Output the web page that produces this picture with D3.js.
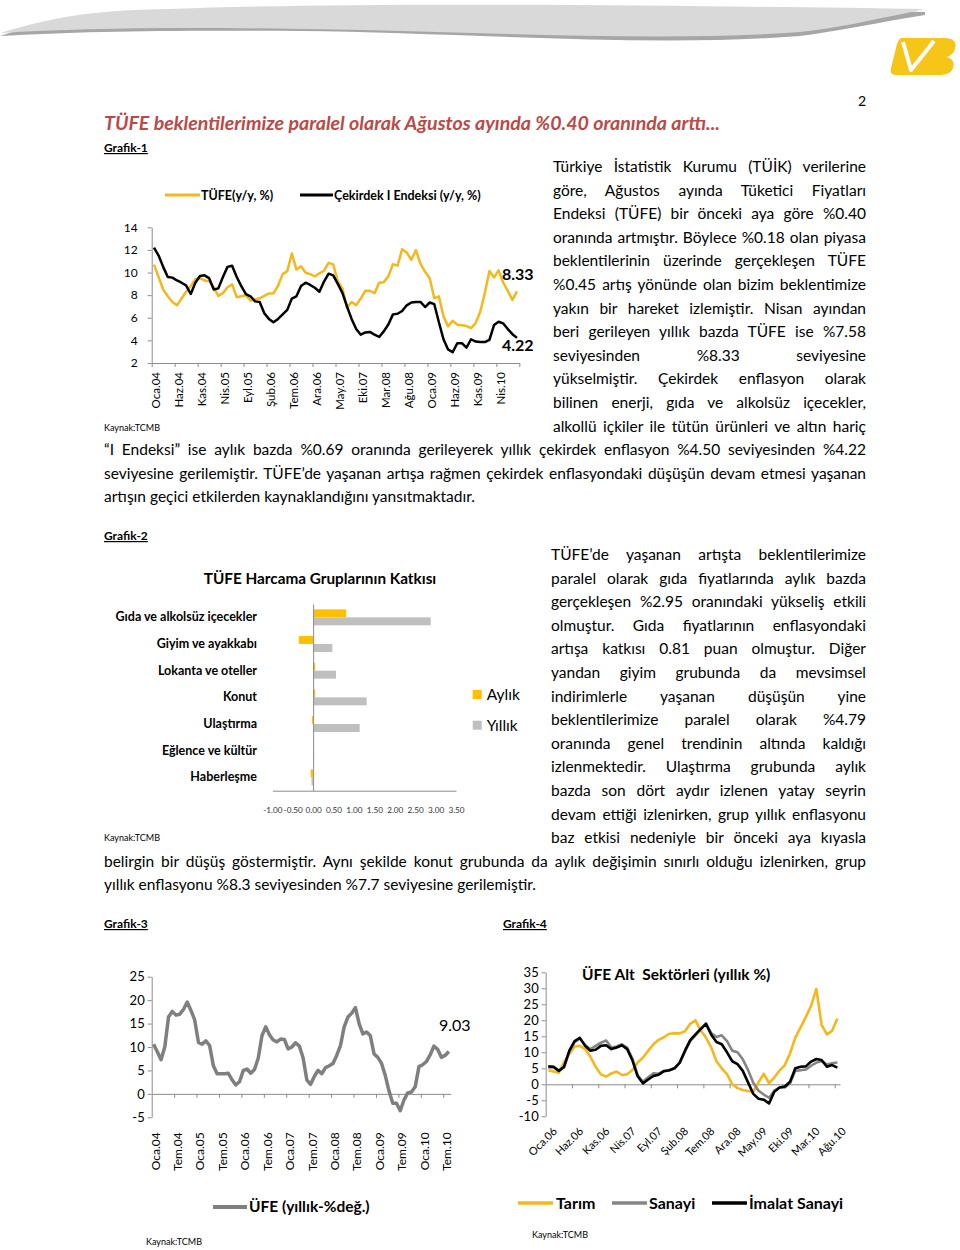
<!DOCTYPE html>
<html>
<head>
<meta charset="utf-8">
<title>TÜFE - Ağustos</title>
<script src="https://d3js.org/d3.v7.min.js"></script>
<style>
  body { margin: 0; background: #fff; }
  svg { display: block; }
  text { font-family: Lato, "Open Sans", sans-serif; }
</style>
</head>
<body>
<svg width="960" height="1250"></svg>
<script>
// Grafik-1 : TÜFE ve Çekirdek I (yıllık %), Oca.04 - Ağu.10
var tufeLabels = ["Oca.04","Haz.04","Kas.04","Nis.05","Eyl.05","Şub.06","Tem.06","Ara.06",
                  "May.07","Eki.07","Mar.08","Ağu.08","Oca.09","Haz.09","Kas.09","Nis.10"];
var tufe = [10.7, 9.6, 8.5, 7.9, 7.4, 7.1, 7.7, 8.3, 8.8, 9.4, 9.5, 9.3,
            9.24, 8.69, 7.94, 8.18, 8.70, 8.95, 7.82, 7.91, 7.99, 7.52, 7.61, 7.72,
            7.93, 8.15, 8.16, 8.83, 9.86, 10.12, 11.69, 10.26, 10.55, 9.98, 9.86, 9.65,
            9.93, 10.16, 10.86, 10.72, 9.23, 8.60, 6.90, 7.39, 7.12, 7.70, 8.40, 8.39,
            8.17, 9.10, 9.15, 9.66, 10.74, 10.61, 12.06, 11.77, 11.13, 11.99, 10.76, 10.06,
            9.50, 7.73, 7.89, 6.13, 5.24, 5.73, 5.39, 5.33, 5.27, 5.08, 5.53, 6.53,
            8.19, 10.13, 9.56, 10.19, 9.10, 8.37, 7.58, 8.33];
var cekirdek = [12.2, 11.5, 10.5, 9.6, 9.55, 9.3, 9.1, 8.85, 8.1, 9.1, 9.7, 9.75,
                9.5, 8.5, 8.6, 9.6, 10.5, 10.6, 9.6, 8.8, 8.1, 7.9, 7.45, 7.4,
                6.4, 5.9, 5.6, 5.9, 6.3, 6.7, 7.7, 7.9, 8.8, 9.1, 8.9, 8.65,
                8.3, 9.2, 9.9, 9.75, 9.0, 8.2, 7.0, 5.9, 5.0, 4.5, 4.7, 4.75,
                4.5, 4.3, 4.8, 5.4, 6.3, 6.35, 6.6, 7.1, 7.35, 7.4, 7.4, 6.95,
                7.35, 7.2, 5.6, 4.1, 3.2, 2.95, 3.75, 3.75, 3.35, 4.1, 3.9, 3.85,
                3.85, 4.05, 5.35, 5.65, 5.5, 5.0, 4.55, 4.22];

// Grafik-2 : TÜFE harcama gruplarının katkısı
var grup = ["Gıda ve alkolsüz içecekler", "Giyim ve ayakkabı", "Lokanta ve oteller", "Konut",
            "Ulaştırma", "Eğlence ve kültür", "Haberleşme"];
var aylik = [0.81, -0.35, 0.05, 0.05, -0.03, 0.01, -0.06];
var yillik = [2.88, 0.47, 0.56, 1.31, 1.14, 0.02, -0.04];
var katkiTicks = [-1, -0.5, 0, 0.5, 1, 1.5, 2, 2.5, 3, 3.5];

// Grafik-3 : ÜFE (yıllık %), Oca.04 - Ağu.10
var ufeLabels = ["Oca.04","Tem.04","Oca.05","Tem.05","Oca.06","Tem.06","Oca.07",
                 "Tem.07","Oca.08","Tem.08","Oca.09","Tem.09","Oca.10","Tem.10"];
var ufe = [10.6, 9.0, 7.3, 10.0, 16.4, 17.6, 16.8, 17.0, 18.0, 19.6, 17.8, 15.8,
           11.0, 10.6, 11.3, 10.3, 6.0, 4.3, 4.3, 4.3, 4.4, 3.0, 1.9, 2.6,
           5.0, 5.3, 4.4, 5.2, 7.6, 12.4, 14.3, 12.6, 11.5, 11.1, 11.7, 11.6,
           9.6, 10.0, 10.9, 10.2, 7.7, 3.0, 2.0, 3.7, 5.0, 4.3, 5.6, 6.0,
           6.5, 8.2, 10.3, 14.3, 16.4, 17.2, 18.4, 15.0, 12.8, 13.2, 12.4, 8.5,
           7.8, 6.5, 3.9, 0.6, -2.0, -2.0, -3.6, -1.3, 0.2, 0.4, 1.5, 5.8,
           6.2, 6.9, 8.3, 10.2, 9.5, 7.8, 8.2, 9.03];

// Grafik-4 : ÜFE alt sektörleri (yıllık %), Oca.06 - Ağu.10
var altLabels = ["Oca.06","Haz.06","Kas.06","Nis.07","Eyl.07","Şub.08","Tem.08","Ara.08",
                 "May.09","Eki.09","Mar.10","Ağu.10"];
var tarim = [4.4, 4.0, 3.6, 7.0, 9.5, 11.8, 12.0, 11.0, 8.6, 5.5, 3.1, 2.4,
             3.4, 4.0, 2.9, 3.1, 4.5, 6.8, 8.3, 10.5, 12.5, 13.9, 14.7, 15.8,
             15.9, 15.9, 16.6, 18.9, 20.0, 16.8, 14.6, 11.5, 7.2, 5.0, 3.2, 0.0,
             -1.2, -1.8, -2.1, -2.3, 0.6, 3.3, 0.4, 2.1, 4.3, 6.0, 9.7, 14.6,
             17.8, 21.0, 24.5, 29.8, 18.6, 15.6, 16.7, 20.6];
var sanayi = [5.3, 5.3, 4.3, 5.3, 10.3, 13.2, 14.3, 12.3, 11.0, 12.0, 13.0, 13.7,
              11.5, 11.8, 12.5, 11.5, 8.0, 2.8, 0.8, 2.2, 3.4, 3.3, 4.2, 4.3,
              5.0, 6.7, 10.2, 13.5, 15.3, 17.2, 19.0, 16.0, 14.8, 15.3, 13.5, 10.5,
              10.0, 7.8, 4.5, 0.5, -2.0, -3.2, -4.2, -2.0, -1.0, -1.0, 0.3, 4.2,
              4.4, 4.6, 5.8, 6.8, 7.2, 6.2, 6.6, 6.8];
var imalat = [5.6, 5.5, 4.2, 5.5, 10.5, 13.5, 14.5, 12.0, 10.5, 10.8, 12.0, 12.2,
              11.0, 11.5, 12.2, 11.0, 7.5, 2.5, 0.3, 1.5, 2.6, 3.0, 4.1, 4.4,
              5.0, 6.8, 10.5, 13.8, 15.6, 17.3, 18.9, 15.5, 13.2, 12.5, 10.0, 7.2,
              6.3, 4.2, 0.6, -3.0, -4.5, -4.8, -6.0, -2.3, -1.0, -0.7, 0.8, 5.0,
              5.5, 5.6, 7.1, 7.9, 7.6, 5.5, 6.0, 5.2];

// metin satırları
var metin1 = ["Türkiye İstatistik Kurumu (TÜİK) verilerine",
              "göre, Ağustos ayında Tüketici Fiyatları",
              "Endeksi (TÜFE) bir önceki aya göre %0.40",
              "oranında artmıştır. Böylece %0.18 olan piyasa",
              "beklentilerinin üzerinde gerçekleşen TÜFE",
              "%0.45 artış yönünde olan bizim beklentimize",
              "yakın bir hareket izlemiştir. Nisan ayından",
              "beri gerileyen yıllık bazda TÜFE ise %7.58",
              "seviyesinden %8.33 seviyesine",
              "yükselmiştir. Çekirdek enflasyon olarak",
              "bilinen enerji, gıda ve alkolsüz içecekler,",
              "alkollü içkiler ile tütün ürünleri ve altın hariç"];
var metin1b = ["“I Endeksi” ise aylık bazda %0.69 oranında gerileyerek yıllık çekirdek enflasyon %4.50 seviyesinden %4.22",
               "seviyesine gerilemiştir. TÜFE’de yaşanan artışa rağmen çekirdek enflasyondaki düşüşün devam etmesi yaşanan",
               "artışın geçici etkilerden kaynaklandığını yansıtmaktadır."];
var metin2 = ["TÜFE’de yaşanan artışta beklentilerimize",
              "paralel olarak gıda fiyatlarında aylık bazda",
              "gerçekleşen %2.95 oranındaki yükseliş etkili",
              "olmuştur. Gıda fiyatlarının enflasyondaki",
              "artışa katkısı 0.81 puan olmuştur. Diğer",
              "yandan giyim grubunda da mevsimsel",
              "indirimlerle yaşanan düşüşün yine",
              "beklentilerimize paralel olarak %4.79",
              "oranında genel trendinin altında kaldığı",
              "izlenmektedir. Ulaştırma grubunda aylık",
              "bazda son dört aydır izlenen yatay seyrin",
              "devam ettiği izlenirken, grup yıllık enflasyonu",
              "baz etkisi nedeniyle bir önceki aya kıyasla"];
var metin2b = ["belirgin bir düşüş göstermiştir. Aynı şekilde konut grubunda da aylık değişimin sınırlı olduğu izlenirken, grup",
               "yıllık enflasyonu %8.3 seviyesinden %7.7 seviyesine gerilemiştir."];

var YEL = "#F5B81C", GRY = "#858585", AX = "#8C8C8C";
var svg = d3.select("svg");
var plain = function (d) { return String(d); };   // hyphen minus, like the source

function label(x, y, s, o) {
  o = o || {};
  return svg.append("text").attr("x", x).attr("y", y).text(s)
    .attr("font-size", o.size || 12)
    .attr("font-weight", o.bold ? "bold" : null)
    .attr("font-style", o.italic ? "italic" : null)
    .attr("text-anchor", o.anchor || "start")
    .attr("fill", o.color || "#000")
    .attr("text-decoration", o.underline ? "underline" : null);
}

function styleAxis(g, size) {
  g.attr("font-family", null).attr("font-size", null);
  g.select(".domain").attr("stroke", AX);
  g.selectAll(".tick line").attr("stroke", AX);
  g.selectAll(".tick text").attr("fill", "#000").attr("font-size", size);
}

// justified text lines
function block(lines, x, y0, w, lastFree) {
  lines.forEach(function (s, k) {
    var t = svg.append("text").attr("x", x).attr("y", y0 + k * 23.6)
      .attr("font-size", 15.5).attr("fill", "#000").text(s);
    if (lastFree && k === lines.length - 1) return;
    var n = (s.match(/ /g) || []).length;
    var len = t.node().getComputedTextLength();
    if (n) t.style("word-spacing", ((w - len) / n) + "px");
  });
}

function legendLine(x1, x2, y, color, w) {
  svg.append("line").attr("x1", x1).attr("x2", x2).attr("y1", y).attr("y2", y)
    .attr("stroke", color).attr("stroke-width", w);
}

// ---------- header ----------
svg.append("path")
  .attr("d", "M0,36 C50,20 90,12 170,11 C380,3 700,8 925,12 L925,15 C880,22 840,31 800,36 C650,48 450,32 300,31 C180,30 80,31 0,36 Z")
  .attr("fill", "#A6A6A6");
svg.append("path")
  .attr("d", "M0,33 C50,18 90,10 170,9 C380,1 700,6 925,9 L907,13 C870,20 840,28 800,32 C650,43 450,30 300,29 C180,27 80,28 0,33 Z")
  .attr("fill", "#D9D9D9");
// logo
svg.append("path")
  .attr("d", "M902,38 L944,38 Q958,38 955,49 Q953,55 947,57 Q956,60 953,68 Q951,75 940,75 L896,75 Q889,75 891,68 L897,44 Q899,38 902,38 Z")
  .attr("fill", "#F5C518");
svg.append("path").attr("d", "M903,42 L911,70 L934,41")
  .attr("fill", "none").attr("stroke", "#fff").attr("stroke-width", 4).attr("stroke-linejoin", "round");
label(858, 106, "2", { size: 14 });

label(104, 130, "TÜFE beklentilerimize paralel olarak Ağustos ayında %0.40 oranında arttı...",
      { size: 19, bold: true, italic: true, color: "#B94A48" })
  .attr("textLength", 616).attr("lengthAdjust", "spacingAndGlyphs");

// ---------- text ----------
block(metin1, 553, 172, 313, false);
block(metin1b, 104, 172 + 12 * 23.6, 762, true);
block(metin2, 551, 560, 315, false);
block(metin2b, 104, 560 + 13 * 23.6, 762, true);

// ---------- Grafik-1 ----------
label(104, 152, "Grafik-1", { size: 12, bold: true, underline: true });
var x1 = d3.scaleBand().domain(d3.range(tufe.length)).range([151.7, 519.3]);
var x1b = d3.scaleLinear().domain([0, tufe.length]).range([151.7, 519.3]);
var y1 = d3.scaleLinear().domain([2, 14]).range([363, 227.3]);

svg.append("g").attr("transform", "translate(151.7,0)")
  .call(d3.axisLeft(y1).tickValues(d3.range(2, 15, 2)).tickSize(4).tickSizeOuter(0).tickPadding(10))
  .call(styleAxis, 12);
svg.append("g").attr("transform", "translate(0,363)")
  .call(d3.axisBottom(x1b).tickValues(d3.range(0, 81, 5)).tickSize(4).tickSizeOuter(0).tickFormat(""))
  .call(styleAxis, 11);
svg.append("g").attr("transform", "translate(" + x1.bandwidth() / 2 + ",363)")
  .call(d3.axisBottom(x1).tickValues(d3.range(0, 80, 5)).tickSize(0)
        .tickFormat(function (i) { return tufeLabels[i / 5]; }))
  .call(function (g) {
    g.select(".domain").remove();
    g.selectAll(".tick text").attr("transform", "rotate(-90)").attr("x", -9).attr("y", 0)
      .attr("dy", "0.35em").attr("text-anchor", "end");
  })
  .call(styleAxis, 11.5);

var line1 = d3.line().x(function (d, i) { return x1(i) + x1.bandwidth() / 2; }).y(function (d) { return y1(d); });
svg.append("path").datum(tufe).attr("d", line1).attr("fill", "none")
  .attr("stroke", YEL).attr("stroke-width", 2.5).attr("stroke-linejoin", "round");
svg.append("path").datum(cekirdek).attr("d", line1).attr("fill", "none")
  .attr("stroke", "#000").attr("stroke-width", 2.5).attr("stroke-linejoin", "round");

legendLine(165, 200, 195, YEL, 3);
label(201, 199.5, "TÜFE(y/y, %)", { size: 12.5, bold: true });
legendLine(300, 333, 195, "#000", 3);
label(334, 199.5, "Çekirdek I Endeksi (y/y, %)", { size: 12.5, bold: true });
label(502, 280, d3.format(".2f")(tufe[tufe.length - 1]), { size: 16, bold: true });
label(502, 351, d3.format(".2f")(cekirdek[cekirdek.length - 1]), { size: 16, bold: true });
label(104, 431, "Kaynak:TCMB", { size: 9 });

// ---------- Grafik-2 ----------
label(104, 540, "Grafik-2", { size: 12, bold: true, underline: true });
label(320, 584, "TÜFE Harcama Gruplarının Katkısı", { size: 15.3, bold: true, anchor: "middle" });
var x2 = d3.scaleLinear().domain([-1, 3.5]).range([272.3, 456]);
var y2 = d3.scaleBand().domain(grup).range([604, 790.7]);
var sub = d3.scaleBand().domain(["aylik", "yillik"]).range([0, y2.bandwidth()]).paddingOuter(0.67);

svg.append("g").attr("transform", "translate(0,790.7)")
  .call(d3.axisBottom(x2).tickValues(katkiTicks).tickSize(0).tickPadding(16)
        .tickFormat(function (d) { return d.toFixed(2); }))
  .call(styleAxis, 8.2)
  .call(function (g) { g.selectAll(".tick text").attr("fill", "#333"); });
svg.append("g").attr("transform", "translate(257,0)")
  .call(d3.axisLeft(y2).tickSize(0).tickPadding(0))
  .call(function (g) { g.select(".domain").remove(); })
  .call(styleAxis, 12.5)
  .call(function (g) { g.selectAll(".tick text").attr("font-weight", "bold"); });

function bars(vals, key, color) {
  svg.append("g").selectAll("rect").data(vals).enter().append("rect")
    .attr("x", function (d) { return x2(Math.min(0, d)); })
    .attr("width", function (d) { return Math.abs(x2(d) - x2(0)); })
    .attr("y", function (d, i) { return y2(grup[i]) + sub(key); })
    .attr("height", sub.bandwidth())
    .attr("fill", color);
}
bars(aylik, "aylik", "#FFC000");
bars(yillik, "yillik", "#BFBFBF");
svg.append("g").attr("transform", "translate(" + x2(0) + ",0)")
  .call(d3.axisLeft(y2).tickSize(0).tickFormat(""))
  .call(styleAxis, 9);

svg.append("rect").attr("x", 472.7).attr("y", 690).attr("width", 9).attr("height", 9).attr("fill", "#FFC000");
label(486.7, 700, "Aylık", { size: 15.5 });
svg.append("rect").attr("x", 472.7).attr("y", 720.7).attr("width", 9).attr("height", 9).attr("fill", "#BFBFBF");
label(486.7, 730.5, "Yıllık", { size: 15.5 });
label(104, 841, "Kaynak:TCMB", { size: 9 });

// ---------- Grafik-3 ----------
label(104, 928, "Grafik-3", { size: 12, bold: true, underline: true });
var x3 = d3.scaleBand().domain(d3.range(ufe.length)).range([151.7, 450.7]);
var x3b = d3.scaleLinear().domain([0, ufe.length]).range([151.7, 450.7]);
var y3 = d3.scaleLinear().domain([-5, 25]).range([1117.3, 976.7]);

svg.append("g").attr("transform", "translate(151.7,0)")
  .call(d3.axisLeft(y3).tickValues(d3.range(-5, 26, 5)).tickFormat(plain).tickSize(4).tickSizeOuter(0).tickPadding(3))
  .call(styleAxis, 13);
svg.append("g").attr("transform", "translate(0," + y3(0) + ")")
  .call(d3.axisBottom(x3b).tickValues(d3.range(6, 80, 6)).tickSize(4).tickSizeOuter(0).tickFormat(""))
  .call(styleAxis, 11);
svg.append("g").attr("transform", "translate(" + x3.bandwidth() / 2 + ",1117.3)")
  .call(d3.axisBottom(x3).tickValues(d3.range(0, 80, 6)).tickSize(0)
        .tickFormat(function (i) { return ufeLabels[i / 6]; }))
  .call(function (g) {
    g.select(".domain").remove();
    g.selectAll(".tick text").attr("transform", "rotate(-90)").attr("x", -15).attr("y", 0)
      .attr("dy", "0.35em").attr("text-anchor", "end");
  })
  .call(styleAxis, 12);
var line3 = d3.line().x(function (d, i) { return x3(i) + x3.bandwidth() / 2; }).y(function (d) { return y3(d); });
svg.append("path").datum(ufe).attr("d", line3).attr("fill", "none")
  .attr("stroke", "#7F7F7F").attr("stroke-width", 3.5).attr("stroke-linejoin", "round");
label(439, 1031, d3.format(".2f")(ufe[ufe.length - 1]), { size: 16 });
legendLine(213, 247, 1207, "#7F7F7F", 4);
label(249, 1212, "ÜFE (yıllık-%değ.)", { size: 15.5, bold: true });
label(146, 1245, "Kaynak:TCMB", { size: 9 });

// ---------- Grafik-4 ----------
label(503, 928, "Grafik-4", { size: 12, bold: true, underline: true });
var x4 = d3.scaleBand().domain(d3.range(tarim.length)).range([545.7, 840]);
var x4b = d3.scaleLinear().domain([0, tarim.length]).range([545.7, 840]);
var y4 = d3.scaleLinear().domain([-10, 35]).range([1116.3, 972.3]);

svg.append("g").attr("transform", "translate(545.7,0)")
  .call(d3.axisLeft(y4).tickValues(d3.range(-10, 36, 5)).tickFormat(plain).tickSize(4).tickSizeOuter(0).tickPadding(3))
  .call(styleAxis, 13);
svg.append("g").attr("transform", "translate(0," + y4(0) + ")")
  .call(d3.axisBottom(x4b).tickValues(d3.range(5, 56, 5)).tickSize(4).tickSizeOuter(0).tickFormat(""))
  .call(styleAxis, 11);
svg.append("g").attr("transform", "translate(" + x4.bandwidth() / 2 + ",1116.3)")
  .call(d3.axisBottom(x4).tickValues(d3.range(0, 56, 5)).tickSize(0)
        .tickFormat(function (i) { return altLabels[i / 5]; }))
  .call(function (g) {
    g.select(".domain").remove();
    g.selectAll(".tick text").attr("transform", "translate(4,13) rotate(-45)").attr("x", 0).attr("y", 0)
      .attr("dy", "0.35em").attr("text-anchor", "end");
  })
  .call(styleAxis, 11);
var line4 = d3.line().x(function (d, i) { return x4(i) + x4.bandwidth() / 2; }).y(function (d) { return y4(d); });
[[tarim, YEL], [sanayi, GRY], [imalat, "#000"]].forEach(function (s) {
  svg.append("path").datum(s[0]).attr("d", line4).attr("fill", "none")
    .attr("stroke", s[1]).attr("stroke-width", 2.6).attr("stroke-linejoin", "round");
});
label(582, 980, "ÜFE Alt  Sektörleri (yıllık %)", { size: 15.5, bold: true }).style("white-space", "pre");
legendLine(518, 553, 1203, YEL, 3.5);
label(556, 1209, "Tarım", { size: 16, bold: true });
legendLine(612, 647, 1203, GRY, 3.5);
label(649, 1209, "Sanayi", { size: 16, bold: true });
legendLine(712, 747, 1203, "#000", 3.5);
label(749, 1209, "İmalat Sanayi", { size: 16, bold: true });
label(532, 1238, "Kaynak:TCMB", { size: 9 });
</script>
</body>
</html>
